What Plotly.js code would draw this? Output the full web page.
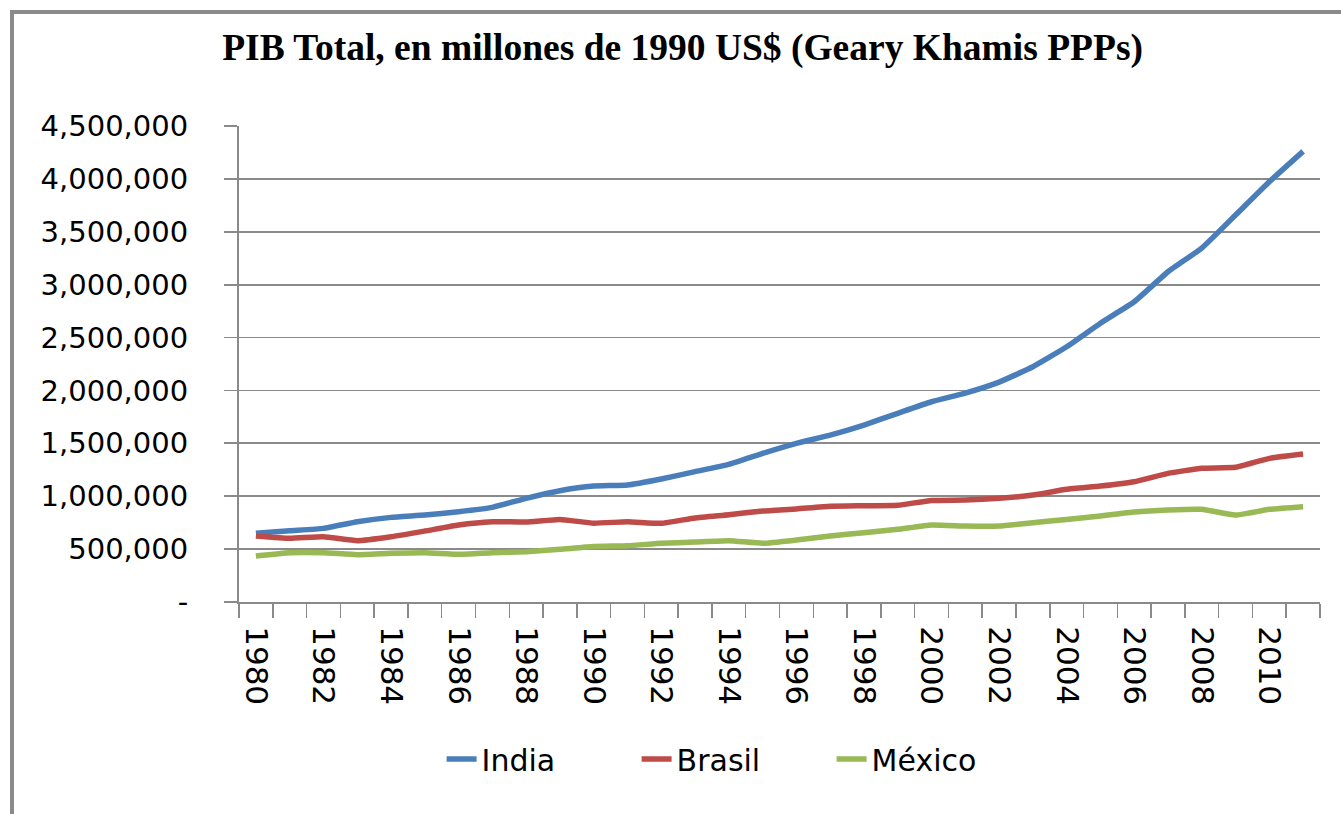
<!DOCTYPE html>
<html>
<head>
<meta charset="utf-8">
<script src="https://cdn.plot.ly/plotly-3.0.1.min.js"></script>
<style>
  html, body { margin: 0; padding: 0; background: #fff; }
  #wrap { position: relative; width: 1341px; height: 814px; overflow: hidden; }
  #chart { width: 1341px; height: 814px; }
  #frame { position: absolute; left: 10px; top: 10px; right: -10px; bottom: -10px;
           border-left: 4px solid #8a8a8a; border-top: 4px solid #8a8a8a; pointer-events: none; }
</style>
</head>
<body>
<div id="wrap"><div id="chart"></div><div id="frame"></div></div>
<script>
// Years (categories)
const years = [1980,1981,1982,1983,1984,1985,1986,1987,1988,1989,
               1990,1991,1992,1993,1994,1995,1996,1997,1998,1999,
               2000,2001,2002,2003,2004,2005,2006,2007,2008,2009,2010,2011];

// GDP, millions of 1990 GK$
const india = [649000,674000,696000,759000,800000,822000,854000,895000,980000,1052000,
               1096000,1106000,1163000,1232000,1301000,1405000,1500000,1578000,1673000,1784000,
               1893000,1975000,2079000,2224000,2413000,2636000,2838000,3122000,3346000,3658000,3973000,4260000];
const brasil = [624000,602000,617000,580000,617000,671000,728000,759000,756000,781000,
                745000,759000,744000,795000,825000,860000,880000,905000,910000,915000,
                960000,964000,980000,1011000,1065000,1096000,1137000,1216000,1264000,1273000,1358000,1399000];
const mexico = [435000,466000,466000,447000,460000,466000,451000,466000,475000,498000,
                525000,532000,555000,567000,580000,555000,586000,624000,655000,687000,
                728000,718000,718000,750000,781000,813000,851000,870000,876000,822000,876000,901000];

const seriesNames = ['India','Brasil','México'];
const seriesColors = ['#4A7EBB','#BE4B48','#98B954'];

const yTickVals = [0,500000,1000000,1500000,2000000,2500000,3000000,3500000,4000000,4500000];
const yTickText = ['-','500,000','1,000,000','1,500,000','2,000,000','2,500,000','3,000,000','3,500,000','4,000,000','4,500,000'];
const xTickVals = [1980,1982,1984,1986,1988,1990,1992,1994,1996,1998,2000,2002,2004,2006,2008,2010];

const titleText = 'PIB Total, en millones de 1990 US$ (Geary Khamis PPPs)';

const data = [india, brasil, mexico].map((vals, i) => ({
  type: 'scatter', mode: 'lines', x: years, y: vals, name: seriesNames[i],
  line: { color: seriesColors[i], width: 5.5, shape: 'spline', smoothing: 0.4 },
  hoverinfo: 'x+y+name'
}));

const grid = '#8a8a8a';
const layout = {
  width: 1341, height: 814,
  paper_bgcolor: '#ffffff', plot_bgcolor: '#ffffff',
  margin: { l: 239, r: 21, t: 126, b: 212 },
  title: {
    text: titleText, x: 0.509, xanchor: 'center', y: 0.942, yanchor: 'middle', yref: 'container',
    font: { family: 'Liberation Serif, Times New Roman, serif', size: 37.5, color: '#000', weight: 'bold' }
  },
  xaxis: {
    type: 'linear', range: [1979.5, 2011.5],
    tickmode: 'array', tickvals: xTickVals, ticktext: xTickVals.map(String),
    tickangle: 90, ticks: '', ticklabelstandoff: 16,
    showgrid: false, zeroline: false,
    showline: true, linecolor: grid, linewidth: 2,
    tickfont: { family: 'DejaVu Sans, sans-serif', size: 31, color: '#000' },
    minor: { ticks: 'outside', tick0: 1979.5, dtick: 1, ticklen: 14, tickwidth: 1.5, tickcolor: grid, showgrid: false }
  },
  yaxis: {
    range: [0, 4500000], tickmode: 'array', tickvals: yTickVals, ticktext: yTickText,
    ticks: 'outside', ticklen: 13, tickwidth: 1.7, tickcolor: grid, ticklabelstandoff: 30,
    showgrid: true, gridcolor: grid, gridwidth: 1.7, zeroline: false,
    showline: true, linecolor: grid, linewidth: 2,
    tickfont: { family: 'DejaVu Sans, sans-serif', size: 29, color: '#000' }
  },
  legend: {
    orientation: 'h', x: 0.458, xanchor: 'center', y: -0.33, yanchor: 'middle',
    font: { family: 'DejaVu Sans, sans-serif', size: 30, color: '#000' },
    entrywidth: 150, entrywidthmode: 'pixels', bgcolor: 'rgba(0,0,0,0)'
  },
  showlegend: true
};

Plotly.newPlot('chart', data, layout, { displayModeBar: false, staticPlot: true });
</script>
</body>
</html>
